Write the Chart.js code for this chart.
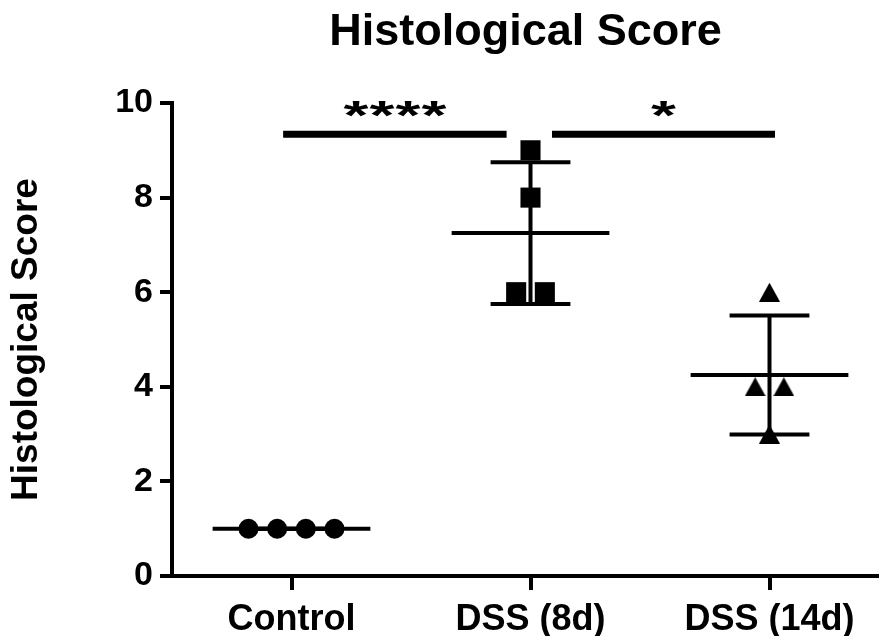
<!DOCTYPE html>
<html><head><meta charset="utf-8">
<script src="https://cdn.jsdelivr.net/npm/chart.js@4.4.0/dist/chart.umd.min.js"></script>
<style>html,body{margin:0;padding:0;background:#fff;} #wrap{width:879px;height:636px;}</style>
</head><body><div id="wrap"><canvas id="c" width="879" height="636"></canvas></div>
<script>
const categories = ['Control', 'DSS (8d)', 'DSS (14d)'];
const controlScores = [1, 1, 1, 1];
const dss8Scores = [9, 8, 6, 6];
const dss14Scores = [6, 4, 4, 3];
const controlJitter = [-0.18, -0.06, 0.06, 0.18];
const dss8Jitter = [0, 0, -0.06, 0.06];
const dss14Jitter = [0, -0.06, 0.06, 0];
const yTicks = [0, 2, 4, 6, 8, 10];
const comparisons = [{a: 0, b: 1, label: '****'}, {a: 1, b: 2, label: '*'}];
const sigLevel = 9.34;

const FONT = "'Liberation Sans', Arial, sans-serif";
const groups = [controlScores, dss8Scores, dss14Scores];
const jitters = [controlJitter, dss8Jitter, dss14Jitter];

function mean(a) { return a.reduce((s, v) => s + v, 0) / a.length; }
function sd(a) { const m = mean(a); return Math.sqrt(a.reduce((s, v) => s + (v - m) * (v - m), 0) / (a.length - 1)); }

// triangle marker (bbox-centred)
const tri = document.createElement('canvas');
tri.width = 21; tri.height = 19;
{ const t = tri.getContext('2d'); t.fillStyle = '#000'; t.beginPath(); t.moveTo(10.5, 0); t.lineTo(21, 19); t.lineTo(0, 19); t.closePath(); t.fill(); }

const pointStyles = ['circle', 'rect', tri];
const pointRadii = [10, 14.2, 10];

const datasets = [];
groups.forEach((g, i) => {
  datasets.push({
    type: 'scatter',
    data: g.map((v, k) => ({x: i + jitters[i][k], y: v})),
    pointStyle: pointStyles[i], pointRadius: pointRadii[i], pointHoverRadius: pointRadii[i],
    pointBackgroundColor: '#000', pointBorderColor: '#000', pointBorderWidth: 0,
    showLine: false, order: 1, clip: false
  });
});
const MEAN_HALF = 0.33, CAP_HALF = 0.167;
groups.forEach((g, i) => {
  const m = mean(g), s = sd(g);
  const segs = [
    [{x: i - MEAN_HALF, y: m}, {x: i + MEAN_HALF, y: m}],
    [{x: i, y: m - s}, {x: i, y: m + s}],
    [{x: i - CAP_HALF, y: m + s}, {x: i + CAP_HALF, y: m + s}],
    [{x: i - CAP_HALF, y: m - s}, {x: i + CAP_HALF, y: m - s}]
  ];
  segs.forEach(seg => datasets.push({
    type: 'line', data: seg, borderColor: '#000', borderWidth: 4, pointRadius: 0,
    borderCapStyle: 'butt', order: 2, clip: false, fill: false
  }));
});
comparisons.forEach((c, j) => {
  const x0 = j === 0 ? c.a - 0.035 : c.a + 0.09;
  const x1 = j === 0 ? c.b - 0.10 : c.b + 0.023;
  datasets.push({
    type: 'line', data: [{x: x0, y: sigLevel}, {x: x1, y: sigLevel}],
    borderColor: '#000', borderWidth: 7, pointRadius: 0, borderCapStyle: 'butt', order: 2, clip: false
  });
});

const starPlugin = {
  id: 'stars',
  afterDatasetsDraw(chart) {
    const {ctx, scales: {x, y}} = chart;
    const sigDs = datasets.slice(datasets.length - comparisons.length);
    const pitch = 26, sx = 1.6;
    ctx.save();
    ctx.fillStyle = '#000';
    ctx.font = 'bold 40px ' + FONT;
    ctx.textAlign = 'center';
    ctx.textBaseline = 'alphabetic';
    const by = y.getPixelForValue(sigLevel) - 5;
    comparisons.forEach((c, j) => {
      const d = sigDs[j].data;
      const cx = (x.getPixelForValue(d[0].x) + x.getPixelForValue(d[1].x)) / 2;
      const chars = c.label.split('');
      chars.forEach((ch, k) => {
        const px = cx + (k - (chars.length - 1) / 2) * pitch;
        ctx.save();
        ctx.translate(px, by);
        ctx.scale(sx, 1);
        ctx.fillText(ch, 0, 0);
        ctx.restore();
      });
    });
    ctx.restore();
  }
};

new Chart(document.getElementById('c'), {
  data: {datasets},
  options: {
    responsive: false, animation: false,
    layout: {padding: 0, autoPadding: false},
    plugins: {
      legend: {display: false}, tooltip: {enabled: false},
      title: {display: true, fullSize: false, text: 'Histological Score', color: '#000',
        font: {family: FONT, size: 45, weight: 'bold'}, padding: {top: 6, bottom: 43}}
    },
    scales: {
      x: {
        type: 'linear', min: -0.5, max: -0.5 + 707 / 239,
        afterBuildTicks: s => { s.ticks = categories.map((c, i) => ({value: i})); },
        afterFit: s => { s.height = 60; s.paddingRight = 0; s.paddingLeft = 0; },
        ticks: {color: '#000', font: {family: FONT, size: 36, weight: 'bold'}, padding: 8,
          maxRotation: 0, autoSkip: false, callback: v => categories[v]},
        grid: {drawOnChartArea: false, drawTicks: true, tickLength: 14, lineWidth: 4, color: '#000'},
        border: {display: true, width: 4, color: '#000'}
      },
      y: {
        type: 'linear', min: 0, max: 10,
        afterBuildTicks: s => { s.ticks = yTicks.map(v => ({value: v})); },
        afterFit: s => { s.width = 172; },
        ticks: {color: '#000', font: {family: FONT, size: 34, weight: 'bold'}, padding: 7},
        grid: {drawOnChartArea: false, drawTicks: true, tickLength: 12, lineWidth: 4, color: '#000'},
        border: {display: true, width: 4, color: '#000'},
        title: {display: true, text: 'Histological Score', color: '#000',
          font: {family: FONT, size: 37, weight: 'bold'}, padding: {top: 5, bottom: 0}}
      }
    }
  },
  plugins: [starPlugin]
});
</script></body></html>
